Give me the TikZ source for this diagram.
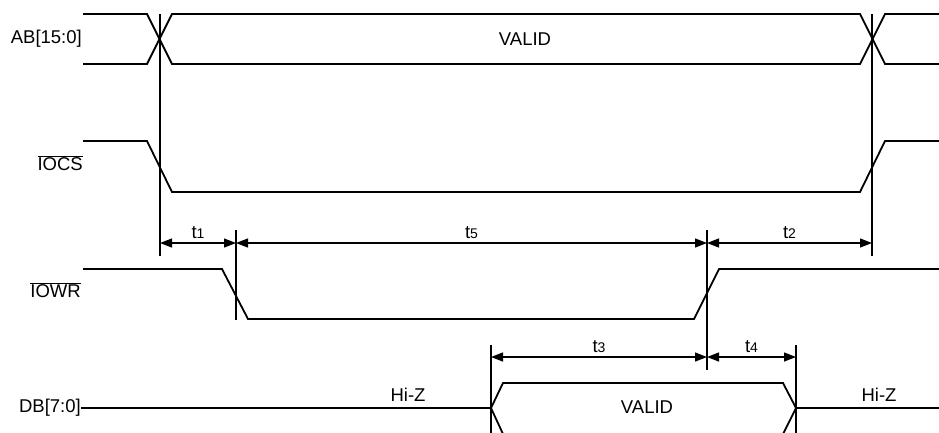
\documentclass[tikz,border=0pt]{standalone}
\usepackage{fontspec}
\setmainfont{Liberation Sans}
\usetikzlibrary{arrows.meta}
\newcommand{\tdig}[1]{{\fontsize{14}{14}\selectfont #1}}
\begin{document}
\begin{tikzpicture}[x=1pt,y=-1pt,
  sig/.style={line width=1.8pt, line join=miter},
  refline/.style={line width=1.3pt},
  dim/.style={line width=1.3pt, {Triangle[length=12pt,width=9pt]}-{Triangle[length=12pt,width=9pt]}},
  lbl/.style={font=\fontsize{18.5}{21}\selectfont, inner sep=0pt},
  tlbl/.style={font=\fontsize{18.5}{21}\selectfont, inner sep=0pt, anchor=base, yshift=5pt, pos=0.5}]
\useasboundingbox (0,0) rectangle (939,432);
\clip (0,0) rectangle (939,432);
% labels
\node[lbl, anchor=east] (lab) at (82,39) {AB[15:0]};
\node[lbl, anchor=east] (labcs) at (83,163) {$\overline{\mbox{IOCS}}$};
\node[lbl, anchor=east] (labwr) at (81,290) {$\overline{\mbox{IOWR}}$};
\node[lbl, anchor=east] (labdb) at (81,408) {DB[7:0]};
\node[lbl] (valid1) at (525,39) {VALID};
\node[lbl] (valid2) at (647,407) {VALID};
\node[lbl] (hiz1) at (408,395) {Hi-Z};
\node[lbl] (hiz2) at (879,395) {Hi-Z};
% signals
\draw[sig] (83,14) -- (147,14) -- (172,64) -- (860,64) -- (885,14) -- (942,14);
\draw[sig] (83,64) -- (147,64) -- (172,14) -- (860,14) -- (885,64) -- (942,64);
\draw[sig] (83,141) -- (147,141) -- (172,192) -- (860,192) -- (885,141) -- (942,141);
\draw[sig] (83,269) -- (222,269) -- (248,319) -- (694,319) -- (719,269) -- (942,269);
\draw[sig] (labdb.east) -- (491,408) -- (503,383) -- (783,383) -- (796,408) -- (942,408);
\draw[sig] (491,408) -- (503,434) -- (783,434) -- (796,408);
% reference lines
\coordinate (v1a) at (160,14);  \coordinate (v1b) at (160,256);
\coordinate (v2a) at (236,230); \coordinate (v2b) at (236,320);
\coordinate (v3a) at (707,230); \coordinate (v3b) at (707,370);
\coordinate (v4a) at (872,14);  \coordinate (v4b) at (872,256);
\coordinate (v5a) at (491,345); \coordinate (v5b) at (491,440);
\coordinate (v6a) at (796,345); \coordinate (v6b) at (796,440);
\foreach \v in {1,...,6} { \draw[refline] (v\v a) -- (v\v b); }
% dimensions
\coordinate (d1) at (160,243); \coordinate (d2) at (236,243);
\coordinate (d3) at (707,243); \coordinate (d4) at (872,243);
\coordinate (e1) at (491,357); \coordinate (e2) at (707,357);
\coordinate (e3) at (796,357);
\draw[dim] (d1) -- node[tlbl] (t1) {t\tdig{1}} (d2);
\draw[dim] (d2) -- node[tlbl] (t5) {t\tdig{5}} (d3);
\draw[dim] (d3) -- node[tlbl] (t2) {t\tdig{2}} (d4);
\draw[dim] (e1) -- node[tlbl] (t3) {t\tdig{3}} (e2);
\draw[dim] (e2) -- node[tlbl] (t4) {t\tdig{4}} (e3);
\end{tikzpicture}
\end{document}
